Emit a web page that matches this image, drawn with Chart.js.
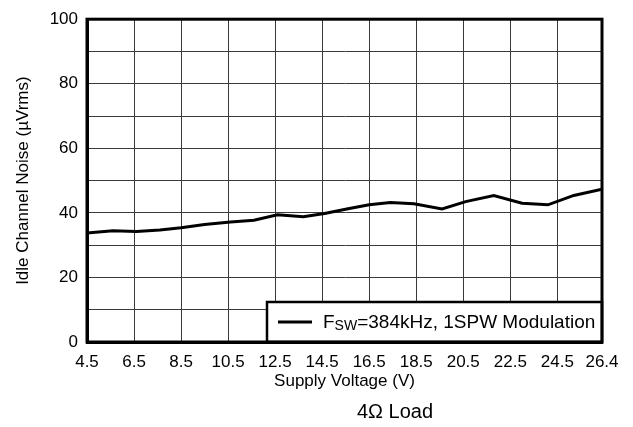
<!DOCTYPE html>
<html>
<head>
<meta charset="utf-8">
<script src="https://cdn.jsdelivr.net/npm/chart.js@4.4.1/dist/chart.umd.min.js"></script>
<style>
  html, body { margin: 0; padding: 0; background: #fff; }
  canvas { display: block; }
</style>
</head>
<body>
<canvas id="noiseChart" width="633" height="427"></canvas>
<script>
// Supply voltage (V) at each vertex of the curve
const supplyVoltage = [4.5, 5.6, 6.6, 7.6, 8.5, 9.5, 10.6, 11.6, 12.6, 13.7, 14.6,
  15.6, 16.5, 17.4, 18.4, 19.6, 20.6, 21.8, 23.0, 24.1, 25.2, 26.4];
// Idle channel noise (uVrms)
const noise = [33.8, 34.5, 34.2, 34.7, 35.4, 36.4, 37.2, 37.7, 39.4, 38.8, 39.8,
  41.3, 42.5, 43.2, 42.8, 41.2, 43.5, 45.4, 43.0, 42.5, 45.4, 47.3];

const xTicks = [4.5, 6.5, 8.5, 10.5, 12.5, 14.5, 16.5, 18.5, 20.5, 22.5, 24.5, 26.4];
const yLabelTicks = [0, 20, 40, 60, 80, 100];

const FONT = '"Liberation Sans", Arial, sans-serif';

// draws frame, axis titles, caption and the boxed legend
const decorations = {
  id: 'decorations',
  afterDraw(chart) {
    const { ctx, chartArea: a } = chart;
    ctx.save();

    // legend box
    ctx.fillStyle = '#fff';
    ctx.fillRect(267, 302, a.right - 267, a.bottom - 302);
    ctx.strokeStyle = '#000';
    ctx.lineWidth = 2.5;
    ctx.strokeRect(267, 302, a.right - 267, a.bottom - 302);
    ctx.lineWidth = 3;
    ctx.beginPath();
    ctx.moveTo(278, 322);
    ctx.lineTo(312, 322);
    ctx.stroke();

    ctx.fillStyle = '#000';
    ctx.textBaseline = 'alphabetic';
    ctx.textAlign = 'left';
    ctx.font = '19px ' + FONT;
    let x = 323;
    ctx.fillText('F', x, 328);
    x += ctx.measureText('F').width;
    ctx.font = '14px ' + FONT;
    ctx.fillText('SW', x, 330);
    x += ctx.measureText('SW').width;
    ctx.font = '19px ' + FONT;
    ctx.fillText('=384kHz, 1SPW Modulation', x, 328);

    // frame
    ctx.lineWidth = 3;
    ctx.strokeRect(a.left, a.top, a.right - a.left, a.bottom - a.top);

    // axis titles
    ctx.textAlign = 'center';
    ctx.textBaseline = 'middle';
    ctx.font = '17px ' + FONT;
    ctx.fillText('Supply Voltage (V)', (a.left + a.right) / 2, 381);

    ctx.save();
    ctx.translate(23, (a.top + a.bottom) / 2);
    ctx.rotate(-Math.PI / 2);
    ctx.fillText('Idle Channel Noise (\u00b5Vrms)', 0, 0);
    ctx.restore();

    ctx.font = '20px ' + FONT;
    ctx.fillText('4\u03a9 Load', 395, 412);

    ctx.restore();
  }
};

new Chart(document.getElementById('noiseChart'), {
  type: 'line',
  data: {
    datasets: [{
      label: 'FSW=384kHz, 1SPW Modulation',
      data: supplyVoltage.map((v, i) => ({ x: v, y: noise[i] })),
      borderColor: '#000',
      borderWidth: 3,
      pointRadius: 0,
      tension: 0,
      fill: false
    }]
  },
  options: {
    responsive: false,
    animation: false,
    devicePixelRatio: 1,
    layout: { padding: { left: 0, top: 14, right: 31, bottom: 0 } },
    plugins: {
      legend: { display: false },
      tooltip: { enabled: false }
    },
    scales: {
      x: {
        type: 'linear',
        min: 4.5,
        max: 26.4,
        afterBuildTicks: scale => { scale.ticks = xTicks.map(v => ({ value: v })); },
        afterFit: scale => { scale.height = 85; },
        grid: { color: '#3a3a3a', lineWidth: 1, drawTicks: false },
        border: { display: true, color: '#000', width: 3 },
        ticks: {
          color: '#000',
          font: { family: FONT, size: 17 },
          padding: 10,
          maxRotation: 0,
          autoSkip: false,
          callback: v => String(v)
        }
      },
      y: {
        min: 0,
        max: 100,
        afterFit: scale => { scale.width = 87; },
        grid: { color: '#3a3a3a', lineWidth: 1, drawTicks: false },
        border: { display: true, color: '#000', width: 3 },
        ticks: {
          stepSize: 10,
          color: '#000',
          font: { family: FONT, size: 17 },
          padding: 9,
          callback: v => yLabelTicks.includes(v) ? String(v) : ''
        }
      }
    }
  },
  plugins: [decorations]
});
</script>
</body>
</html>
